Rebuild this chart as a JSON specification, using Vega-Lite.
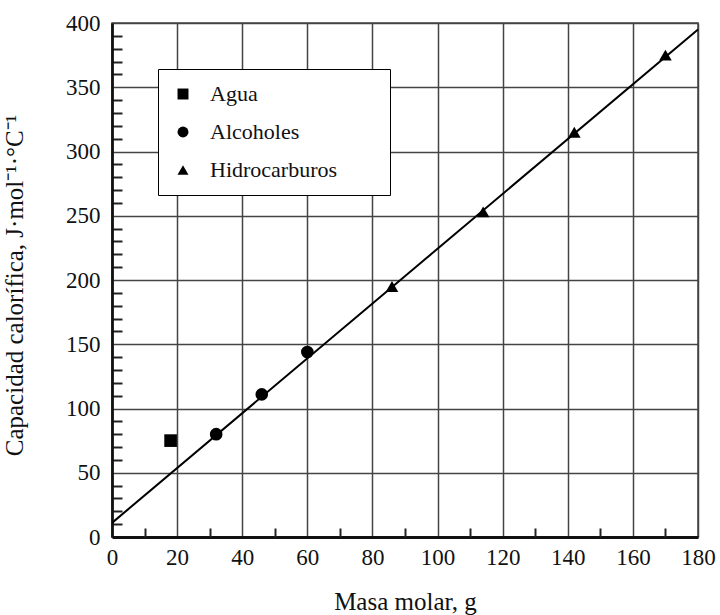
{
  "$schema": "https://vega.github.io/schema/vega-lite/v6.json",
  "autosize": {"type": "none"},
  "width": 586,
  "height": 514,
  "padding": {"left": 112, "top": 23, "right": 22, "bottom": 78},
  "background": "white",
  "config": {
    "view": {"stroke": "#444", "strokeWidth": 1.5},
    "font": "Times New Roman, Liberation Serif, serif",
    "axis": {"labelFont": "Times New Roman, Liberation Serif, serif", "titleFont": "Times New Roman, Liberation Serif, serif", "labelColor": "#111", "titleColor": "#111", "titleFontWeight": "normal"},
    "legend": {"labelFont": "Times New Roman, Liberation Serif, serif", "titleFont": "Times New Roman, Liberation Serif, serif"}
  },
  "encoding": {
    "x": {"field": "masa", "type": "quantitative", "scale": {"domain": [0, 180], "nice": false},
      "axis": {"orient": "bottom", "offset": -9, "values": [0,10,20,30,40,50,60,70,80,90,100,110,120,130,140,150,160,170,180],
        "labelExpr": "datum.value % 20 === 0 ? datum.label : ''",
        "grid": true, "gridColor": "#444",
        "gridWidth": {"condition": {"test": "datum.value === 0", "value": 2.5}, "value": 1.5},
        "gridOpacity": {"condition": {"test": "datum.value % 20 === 0", "value": 1}, "value": 0},
        "ticks": true, "tickSize": 9, "tickWidth": 2, "tickColor": "#222",
        "tickOpacity": {"condition": {"test": "datum.value % 20 === 0", "value": 0}, "value": 1},
        "domain": false, "labelFontSize": 23, "labelPadding": 9, "labelOverlap": false, "labelFlush": false,
        "title": "Masa molar, g", "titleFontSize": 25, "titlePadding": 20}},
    "y": {"field": "cp", "type": "quantitative", "scale": {"domain": [0, 400], "nice": false},
      "axis": {"orient": "left", "values": [0,10,20,30,40,50,60,70,80,90,100,110,120,130,140,150,160,170,180,190,200,210,220,230,240,250,260,270,280,290,300,310,320,330,340,350,360,370,380,390,400],
        "labelExpr": "datum.value % 50 === 0 ? datum.label : ''",
        "grid": true,
        "gridColor": {"condition": {"test": "datum.value === 0", "value": "#111"}, "value": "#444"},
        "gridWidth": {"condition": {"test": "datum.value === 0", "value": 3}, "value": 1.5},
        "gridOpacity": {"condition": {"test": "datum.value % 50 === 0", "value": 1}, "value": 0},
        "ticks": true, "tickSize": -10, "tickWidth": 2, "tickColor": "#222",
        "tickOpacity": {"condition": {"test": "datum.value % 50 === 0", "value": 0}, "value": 1},
        "domain": true, "domainColor": "#111", "domainWidth": 2.5, "labelFontSize": 23, "labelPadding": 22, "labelOverlap": false, "labelFlush": false,
        "title": "Capacidad calorífica, J·mol⁻¹·°C⁻¹", "titleFontSize": 25, "titleX": -85, "titleY": 262}}
  },
  "layer": [
    {
      "data": {"values": [{"masa": 0, "cp": 11}, {"masa": 180, "cp": 395}]},
      "mark": {"type": "line", "color": "black", "strokeWidth": 2}
    },
    {
      "data": {"values": [
        {"masa": 18, "cp": 75, "serie": "Agua"},
        {"masa": 32, "cp": 80, "serie": "Alcoholes"},
        {"masa": 46, "cp": 111, "serie": "Alcoholes"},
        {"masa": 60, "cp": 144, "serie": "Alcoholes"},
        {"masa": 86, "cp": 195, "serie": "Hidrocarburos"},
        {"masa": 114, "cp": 253, "serie": "Hidrocarburos"},
        {"masa": 142, "cp": 315, "serie": "Hidrocarburos"},
        {"masa": 170, "cp": 375, "serie": "Hidrocarburos"}
      ]},
      "mark": {"type": "point", "filled": true, "color": "black", "opacity": 1, "size": 160},
      "encoding": {
        "shape": {"field": "serie", "type": "nominal",
          "scale": {"domain": ["Agua", "Alcoholes", "Hidrocarburos"], "range": ["square", "circle", "triangle-up"]},
          "legend": {"orient": "none", "legendX": 46, "legendY": 46, "title": " ", "titleOrient": "right", "titlePadding": 39, "titleFontSize": 12,
            "strokeColor": "black", "fillColor": "white", "padding": 14, "labelFontSize": 22, "labelColor": "#111",
            "symbolSize": 120, "symbolFillColor": "black", "symbolStrokeColor": "black", "symbolOpacity": 1,
            "rowPadding": 16, "labelOffset": 16, "symbolOffset": 0}}
      }
    }
  ]
}
